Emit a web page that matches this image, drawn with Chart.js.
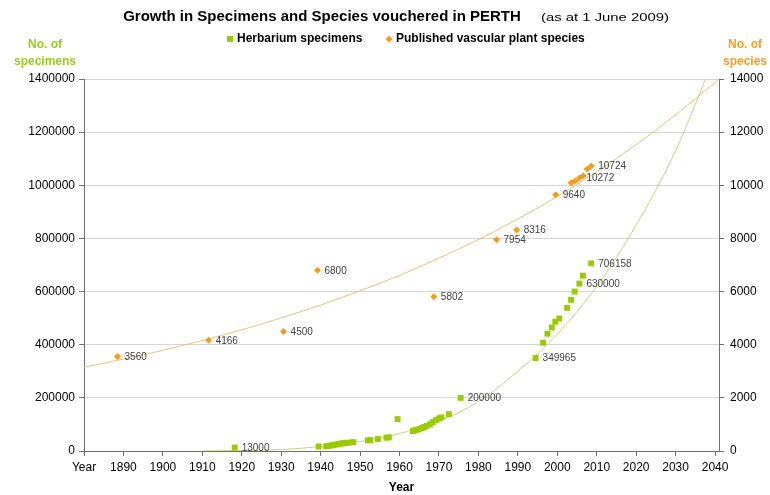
<!DOCTYPE html>
<html>
<head>
<meta charset="utf-8">
<script src="https://cdn.jsdelivr.net/npm/chart.js@4/dist/chart.umd.min.js"></script>
<style>
  html, body { margin: 0; padding: 0; background: #fff; }
  canvas { display: block; }
</style>
</head>
<body>
<canvas id="perthChart" width="770" height="495"></canvas>
<script>
// herbarium specimens (left axis)
const specimenYears = [1918.2, 1939.5, 1941.4, 1942.1, 1942.7, 1943.3, 1944.0, 1944.6, 1945.2, 1945.8, 1946.5, 1947.2, 1948.3,
    1952.0, 1952.6, 1954.5, 1956.7, 1957.3, 1959.5, 1963.4, 1964.1, 1964.8, 1965.6, 1966.2, 1966.9, 1967.7, 1968.4, 1969.2,
    1970.0, 1970.6, 1972.5, 1975.5, 1994.5, 1996.4, 1997.5, 1998.6, 1999.5, 2000.5, 2002.5, 2003.5, 2004.4, 2005.6, 2006.5, 2008.6];
const specimenCounts = [13000, 17000, 18000, 19500, 21000, 22500, 24500, 26500, 28000, 29500, 30500, 31500, 33500,
    40000, 41000, 45000, 50000, 51500, 120000, 75000, 78750, 81400, 86250, 90000, 94900, 100000, 108750, 116250,
    122600, 126400, 138750, 200000, 349965, 407600, 441400, 465000, 486400, 498750, 538900, 568900, 600000, 630000, 660000, 706158];
const specimenLabels = {1918.2: '13000', 1975.5: '200000', 1994.5: '349965', 2005.6: '630000', 2008.6: '706158'};

// published vascular plant species (right axis)
const speciesYears = [1888.5, 1911.6, 1930.6, 1939.2, 1968.7, 1984.6, 1989.7, 1999.6, 2003.5, 2004.5, 2005.6, 2006.6, 2007.6, 2008.6];
const speciesCounts = [3560, 4166, 4500, 6800, 5802, 7954, 8316, 9640, 10100, 10160, 10272, 10360, 10610, 10724];
const speciesLabels = {1888.5: '3560', 1911.6: '4166', 1930.6: '4500', 1939.2: '6800', 1968.7: '5802', 1984.6: '7954',
    1989.7: '8316', 1999.6: '9640', 2005.6: '10272', 2008.6: '10724'};

// trend lines
const specimenTrendYears = [1910, 1920, 1930, 1940, 1950, 1960, 1970, 1980, 1990, 2000, 2010, 2020, 2030, 2040];
const specimenTrend = [0, 1500, 5500, 17000, 36000, 66000, 112000, 186000, 300000, 440000, 620000, 850000, 1130000, 1490000];
const speciesTrendYears = [1880, 1890, 1900, 1910, 1920, 1930, 1940, 1950, 1960, 1970, 1980, 1990, 2000, 2010, 2020, 2030, 2040, 2041];
const speciesTrend = [3150, 3460, 3790, 4160, 4560, 5010, 5490, 6030, 6610, 7260, 7960, 8730, 9580, 10510, 11530, 12650, 13880, 14010];

const xTickLabels = ['Year', '1890', '1900', '1910', '1920', '1930', '1940', '1950', '1960', '1970', '1980',
    '1990', '2000', '2010', '2020', '2030', '2040'];

const FONT = "'Liberation Sans', Arial, sans-serif";
const GREEN = '#99cc00';
const ORANGE = '#f59b1a';

const toPoints = (xs, ys) => xs.map((x, i) => ({x: x, y: ys[i]}));

// titles, legend and the two axis headers
const headerPlugin = {
    id: 'header',
    afterDraw(chart) {
        const ctx = chart.ctx;
        ctx.save();
        ctx.textBaseline = 'middle';
        ctx.fillStyle = '#000';
        ctx.textAlign = 'center';
        ctx.font = 'bold 15px ' + FONT;
        ctx.fillText('Growth in Specimens and Species vouchered in PERTH', 322, 17);

        // the small note is narrow and tall in the original, stretch it to its width
        ctx.textAlign = 'left';
        ctx.font = '11px ' + FONT;
        const note = '(as at 1 June 2009)';
        const w = ctx.measureText(note).width;
        ctx.save();
        ctx.translate(541, 18);
        ctx.scale(128 / w, 1);
        ctx.fillText(note, 0, 0);
        ctx.restore();

        // legend
        ctx.font = 'bold 12px ' + FONT;
        ctx.fillStyle = GREEN;
        ctx.fillRect(227, 36, 6, 6);
        ctx.fillStyle = '#000';
        ctx.fillText('Herbarium specimens', 237, 39);
        ctx.fillStyle = ORANGE;
        ctx.beginPath();
        ctx.moveTo(389, 35.5); ctx.lineTo(392.5, 39); ctx.lineTo(389, 42.5); ctx.lineTo(385.5, 39);
        ctx.closePath();
        ctx.fill();
        ctx.fillStyle = '#000';
        ctx.fillText('Published vascular plant species', 396, 39);

        // axis headers
        ctx.textAlign = 'center';
        ctx.fillStyle = '#9cc91c';
        ctx.fillText('No. of', 45, 45);
        ctx.fillText('specimens', 45, 62);
        ctx.fillStyle = '#f0a020';
        ctx.fillText('No. of', 745, 45);
        ctx.fillText('species', 745, 62);
        ctx.restore();
    }
};

// value labels next to selected points
const pointLabelPlugin = {
    id: 'pointLabels',
    afterDatasetsDraw(chart) {
        const ctx = chart.ctx;
        ctx.save();
        ctx.font = '10px ' + FONT;
        ctx.fillStyle = '#404040';
        ctx.textAlign = 'left';
        ctx.textBaseline = 'middle';
        chart.data.datasets.forEach((ds, di) => {
            if (!ds.pointLabels) return;
            const meta = chart.getDatasetMeta(di);
            ds.data.forEach((p, i) => {
                const txt = ds.pointLabels[p.x];
                if (!txt) return;
                const el = meta.data[i];
                ctx.fillText(txt, el.x + 7, el.y + 0.5);
            });
        });
        ctx.restore();
    }
};

new Chart(document.getElementById('perthChart').getContext('2d'), {
    type: 'scatter',
    data: {
        datasets: [
            {
                label: 'Herbarium specimens',
                data: toPoints(specimenYears, specimenCounts),
                pointLabels: specimenLabels,
                yAxisID: 'y',
                pointStyle: 'rect',
                pointRadius: 4.2,
                pointHoverRadius: 4.2,
                backgroundColor: GREEN,
                borderColor: GREEN,
                borderWidth: 0
            },
            {
                label: 'Published vascular plant species',
                data: toPoints(speciesYears, speciesCounts),
                pointLabels: speciesLabels,
                yAxisID: 'y2',
                pointStyle: 'rectRot',
                pointRadius: 3.5,
                pointHoverRadius: 3.5,
                backgroundColor: ORANGE,
                borderColor: ORANGE,
                borderWidth: 0
            },
            {
                label: 'specimen trend',
                data: toPoints(specimenTrendYears, specimenTrend),
                yAxisID: 'y',
                showLine: true,
                pointRadius: 0,
                borderWidth: 1,
                borderColor: '#c3d57a',
                cubicInterpolationMode: 'monotone'
            },
            {
                label: 'species trend',
                data: toPoints(speciesTrendYears, speciesTrend),
                yAxisID: 'y2',
                showLine: true,
                pointRadius: 0,
                borderWidth: 1,
                borderColor: '#e8c27a',
                cubicInterpolationMode: 'monotone'
            }
        ]
    },
    options: {
        responsive: false,
        animation: false,
        devicePixelRatio: 1,
        layout: { padding: { top: 79, left: 0, right: 0, bottom: 0 } },
        plugins: {
            legend: { display: false },
            title: { display: false },
            tooltip: { enabled: false }
        },
        scales: {
            x: {
                type: 'linear',
                min: 1880,
                max: 2041,
                border: { color: '#707070', width: 1 },
                grid: { drawOnChartArea: false, tickLength: 5, color: '#707070' },
                ticks: {
                    stepSize: 10,
                    includeBounds: false,
                    autoSkip: false,
                    maxRotation: 0,
                    color: '#000',
                    font: { family: FONT, size: 12 },
                    padding: 4,
                    callback: (v, i) => xTickLabels[i]
                },
                title: {
                    display: true,
                    text: 'Year',
                    color: '#000',
                    font: { family: FONT, size: 12, weight: 'bold' },
                    padding: { top: 4, bottom: 0 }
                },
                afterFit: s => { s.height = 44; }
            },
            y: {
                position: 'left',
                min: 0,
                max: 1400000,
                border: { color: '#707070', width: 1 },
                grid: { color: '#d4d4d4', tickColor: '#707070', tickLength: 5 },
                ticks: {
                    stepSize: 200000,
                    color: '#000',
                    font: { family: FONT, size: 12 },
                    padding: 4,
                    callback: v => String(v)
                },
                afterFit: s => { s.width = 84; }
            },
            y2: {
                position: 'right',
                min: 0,
                max: 14000,
                border: { color: '#707070', width: 1 },
                grid: { drawOnChartArea: false, color: '#707070', tickLength: 5 },
                ticks: {
                    stepSize: 2000,
                    color: '#000',
                    font: { family: FONT, size: 12 },
                    padding: 6,
                    callback: v => String(v)
                },
                afterFit: s => { s.width = 51; }
            }
        }
    },
    plugins: [pointLabelPlugin, headerPlugin]
});
</script>
</body>
</html>
